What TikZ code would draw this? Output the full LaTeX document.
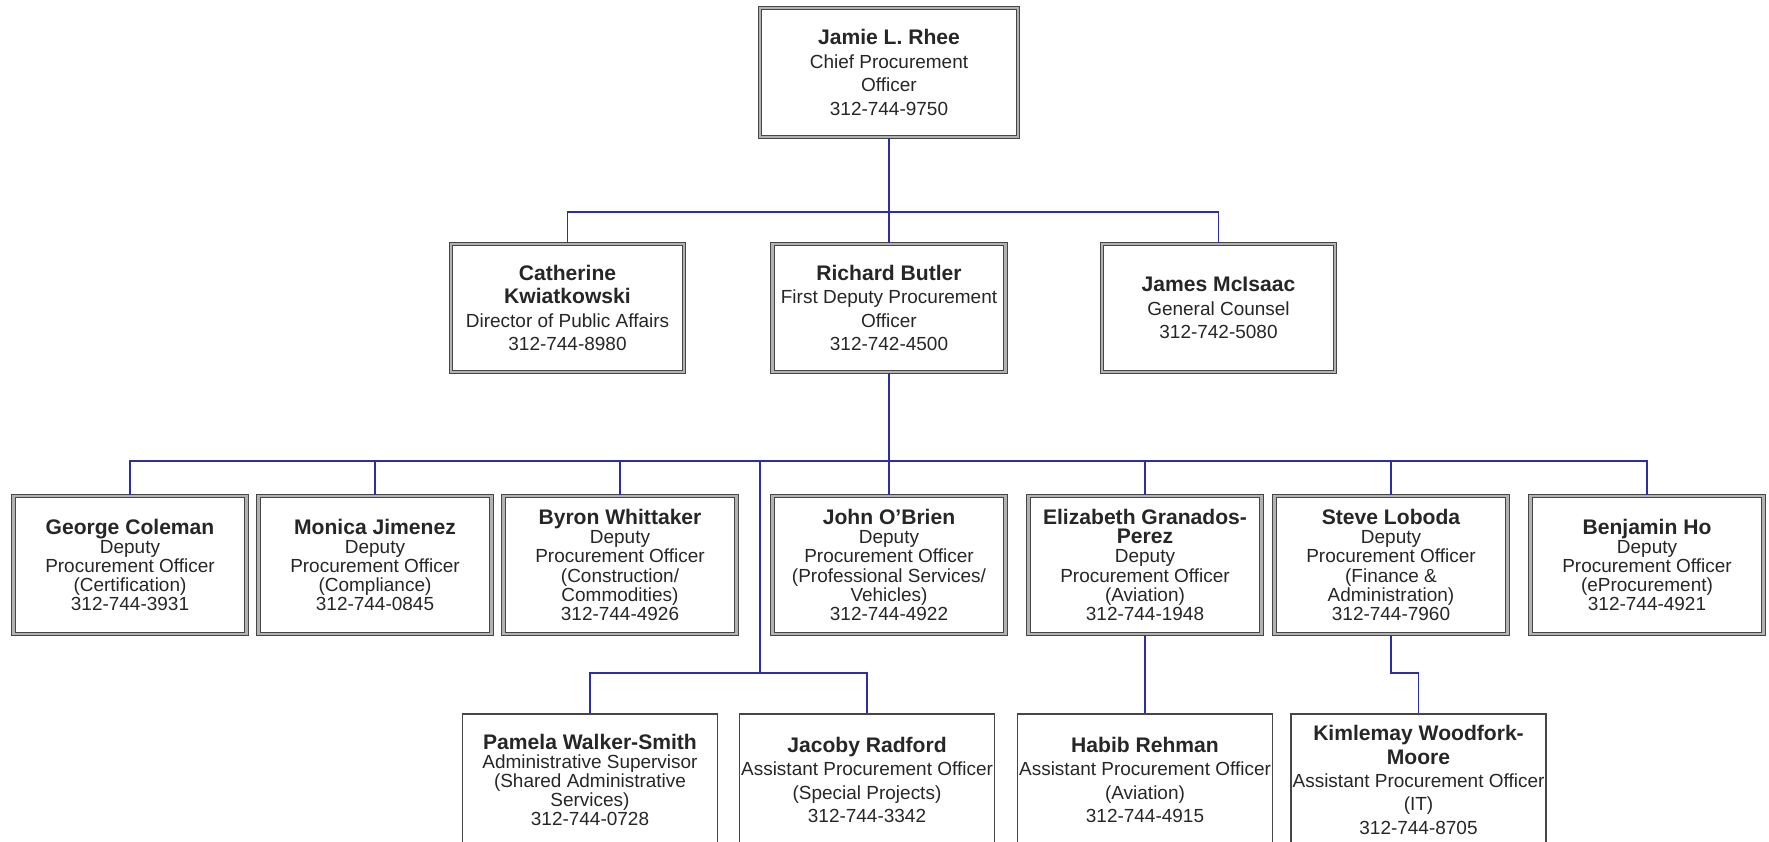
\documentclass[tikz,border=0pt]{standalone}
\usepackage{fontspec}
\setmainfont{Liberation Sans}
\usetikzlibrary{calc}

\definecolor{linkblue}{RGB}{45,45,165}
\definecolor{framegray}{RGB}{70,70,70}

\newcommand{\nm}[1]{{\bfseries\fontsize{12}{13.4}\selectfont #1}}

\begin{document}
\begin{tikzpicture}[
	box/.style={draw=framegray, double=black!30, double distance=1.2pt,
		line width=0.6pt, fill=white, align=center, inner sep=0pt,
		font=\fontsize{10.8}{13.4}\selectfont, text=black!85},
	boxtop/.style={box, minimum width=5.16cm, minimum height=2.58cm},
	boxmid/.style={box, minimum width=4.66cm, minimum height=2.56cm},
	boxdep/.style={box, minimum width=4.66cm, minimum height=2.76cm,
		font=\fontsize{10.8}{10.9}\selectfont},
	boxsub/.style={draw=framegray, line width=0.8pt, align=center,
		inner sep=0pt, minimum width=5.1cm, minimum height=2.64cm,
		font=\fontsize{10.8}{13.3}\selectfont, text=black!85},
	link/.style={draw=linkblue, line width=0.9pt},
]

% frame %{{{2

	\useasboundingbox (0,0) rectangle (35.38,-16.82);

% bus heights %{{{2

	\coordinate (bar1) at (0,-4.24);
	\coordinate (bar2) at (0,-9.22);
	\coordinate (bar3) at (0,-13.46);
	\coordinate (shared) at (15.2,-9.22);

% chief %{{{2

	\node[boxtop] (jamie) at (17.78,-1.45)
		{\nm{Jamie L. Rhee}\\Chief Procurement\\Officer\\312-744-9750};

% second row %{{{2

	\node[boxmid] (catherine) at (11.35,-6.16)
		{\nm{Catherine}\\\nm{Kwiatkowski}\\Director of Public Affairs\\312-744-8980};
	\node[boxmid] (richard) at (17.78,-6.16)
		{\nm{Richard Butler}\\First Deputy Procurement\\Officer\\312-742-4500};
	\node[boxmid] (james) at (24.37,-6.16)
		{\nm{James McIsaac}\\General Counsel\\312-742-5080};

% deputies %{{{2

	\node[boxdep] (george) at (2.6,-11.3)
		{\nm{George Coleman}\\Deputy\\Procurement Officer\\(Certification)\\312-744-3931};
	\node[boxdep] (monica) at (7.5,-11.3)
		{\nm{Monica Jimenez}\\Deputy\\Procurement Officer\\(Compliance)\\312-744-0845};
	\node[boxdep] (byron) at (12.4,-11.3)
		{\nm{Byron Whittaker}\\Deputy\\Procurement Officer\\(Construction/\\Commodities)\\312-744-4926};
	\node[boxdep] (john) at (17.78,-11.3)
		{\nm{John O’Brien}\\Deputy\\Procurement Officer\\(Professional Services/\\Vehicles)\\312-744-4922};
	\node[boxdep] (elizabeth) at (22.9,-11.3)
		{\nm{Elizabeth Granados-}\\\nm{Perez}\\Deputy\\Procurement Officer\\(Aviation)\\312-744-1948};
	\node[boxdep] (steve) at (27.82,-11.3)
		{\nm{Steve Loboda}\\Deputy\\Procurement Officer\\(Finance \&\\Administration)\\312-744-7960};
	\node[boxdep] (benjamin) at (32.94,-11.3)
		{\nm{Benjamin Ho}\\Deputy\\Procurement Officer\\(eProcurement)\\312-744-4921};

% assistants %{{{2

	\node[boxsub, font=\fontsize{10.8}{10.9}\selectfont] (pamela) at (11.8,-15.6)
		{\nm{Pamela Walker-Smith}\\Administrative Supervisor\\(Shared Administrative\\Services)\\312-744-0728};
	\node[boxsub] (jacoby) at (17.34,-15.6)
		{\nm{Jacoby Radford}\\Assistant Procurement Officer\\(Special Projects)\\312-744-3342};
	\node[boxsub] (habib) at (22.9,-15.6)
		{\nm{Habib Rehman}\\Assistant Procurement Officer\\(Aviation)\\312-744-4915};
	\node[boxsub] (kimlemay) at (28.37,-15.6)
		{\nm{Kimlemay Woodfork-}\\\nm{Moore}\\Assistant Procurement Officer\\(IT)\\312-744-8705};

% connectors %{{{2

	\draw[link] (jamie.south) -- (richard.north);
	\draw[link] (catherine.north) -- (catherine.north |- bar1) -| (james.north);

	\draw[link] (richard.south) -- (richard.south |- bar2);
	\draw[link] (george.north) -- (george.north |- bar2) -| (benjamin.north);
	\foreach \n in {monica,byron,john,elizabeth,steve}
		\draw[link] (\n.north) -- (\n.north |- bar2);

	\draw[link] (shared) -- (shared |- bar3);
	\draw[link] (pamela.north) -- (pamela.north |- bar3) -| (jacoby.north);
	\draw[link] (elizabeth.south) -- (habib.north);
	\draw[link] (steve.south) -- (steve.south |- bar3) -| (kimlemay.north);

\end{tikzpicture}
\end{document}
